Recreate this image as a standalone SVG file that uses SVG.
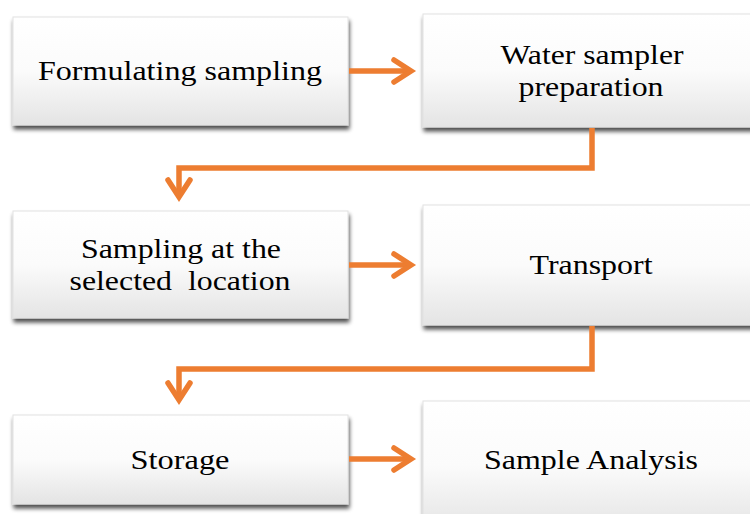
<svg xmlns="http://www.w3.org/2000/svg" width="750" height="514" viewBox="0 0 750 514">
  <defs>
    <linearGradient id="boxFill" x1="0" y1="0" x2="0" y2="1">
      <stop offset="0" stop-color="#ffffff"/>
      <stop offset="0.5" stop-color="#fbfbfb"/>
      <stop offset="1" stop-color="#e4e4e4"/>
    </linearGradient>
    <filter id="shadow" x="-10%" y="-20%" width="125%" height="150%">
      <feGaussianBlur in="SourceAlpha" stdDeviation="2.2"/>
      <feOffset dx="1" dy="4" result="b"/>
      <feComponentTransfer><feFuncA type="linear" slope="0.7"/></feComponentTransfer>
      <feMerge><feMergeNode/><feMergeNode in="SourceGraphic"/></feMerge>
    </filter>
    <!-- open chevron head, drawn with a thick stroke -->
    <marker id="chev" viewBox="0 0 30 30" refX="20" refY="15" markerWidth="30" markerHeight="30" markerUnits="userSpaceOnUse" orient="auto" overflow="visible">
      <path d="M3,4 L20,15 L3,26" fill="none" stroke="#ED7D31" stroke-width="5.5" stroke-linecap="round" stroke-linejoin="miter"/>
    </marker>
  </defs>
  <style>
    .box { fill: url(#boxFill); stroke: #e2e2e2; stroke-width: 1; filter: url(#shadow); }
    .lbl { font-family: "Liberation Serif", "Times New Roman", serif; font-size: 28px; fill: #000; text-anchor: middle; }
    .conn { fill: none; stroke: #ED7D31; stroke-width: 5.5; stroke-linejoin: miter; }
  </style>
  <rect width="750" height="514" fill="#ffffff"/>

  <g id="formulating">
    <rect class="box" x="13" y="17" width="335" height="108"/>
    <text class="lbl" x="180" y="80" textLength="284" lengthAdjust="spacingAndGlyphs">Formulating sampling</text>
  </g>
  <g id="preparation">
    <rect class="box" x="423" y="14" width="340" height="113"/>
    <text class="lbl" x="592" y="64" textLength="183" lengthAdjust="spacingAndGlyphs">Water sampler</text>
    <text class="lbl" x="591" y="96" textLength="145" lengthAdjust="spacingAndGlyphs">preparation</text>
  </g>
  <g id="sampling">
    <rect class="box" x="13" y="211" width="335" height="107"/>
    <text class="lbl" x="181" y="258" textLength="200" lengthAdjust="spacingAndGlyphs">Sampling at the</text>
    <text class="lbl" x="180" y="290" textLength="221" lengthAdjust="spacingAndGlyphs" xml:space="preserve">selected  location</text>
  </g>
  <g id="transport">
    <rect class="box" x="423" y="205" width="340" height="120"/>
    <text class="lbl" x="591" y="274" textLength="123" lengthAdjust="spacingAndGlyphs">Transport</text>
  </g>
  <g id="storage">
    <rect class="box" x="13" y="415" width="335" height="89"/>
    <text class="lbl" x="180" y="469" textLength="99" lengthAdjust="spacingAndGlyphs">Storage</text>
  </g>
  <g id="analysis">
    <rect class="box" x="423" y="401" width="340" height="130"/>
    <text class="lbl" x="591" y="469" textLength="214" lengthAdjust="spacingAndGlyphs">Sample Analysis</text>
  </g>

  <g id="connectors">
    <path class="conn" d="M349,71 H411" marker-end="url(#chev)"/>
    <path class="conn" d="M592,128 V168 H179 V197" marker-end="url(#chev)"/>
    <path class="conn" d="M349,265 H411" marker-end="url(#chev)"/>
    <path class="conn" d="M592,326 V369 H179 V400" marker-end="url(#chev)"/>
    <path class="conn" d="M349,459 H411" marker-end="url(#chev)"/>
  </g>
</svg>
